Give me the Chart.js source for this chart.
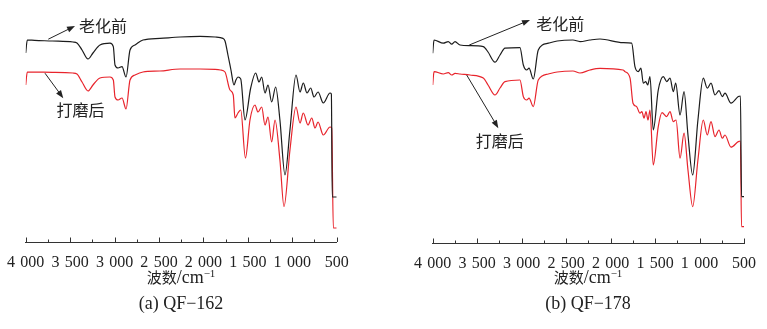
<!DOCTYPE html>
<html>
<head>
<meta charset="utf-8">
<script src="https://cdn.jsdelivr.net/npm/chart.js@4.4.0/dist/chart.umd.min.js"></script>
<style>
  body { margin: 0; background: #fff; }
  #wrap { position: relative; width: 767px; height: 329px; }
  .pane { position: absolute; top: 0; height: 329px; }
  .txt { position: absolute; transform: translateX(-50%); white-space: nowrap;
         font-family: "Liberation Serif", "Noto Sans CJK SC", serif; color: #222; }
  .ttl { top: 266px; line-height: 22px; font-size: 18px; }
  .ttl .zh { font-family: "Noto Sans CJK SC", sans-serif; font-size: 15px; }
  .ttl sup { font-size: 11px; vertical-align: 6px; line-height: 0; }
  .cap { top: 292px; line-height: 22px; font-size: 18px; }
</style>
</head>
<body>
<div id="wrap">
  <div class="pane" style="left:0;width:383px"><canvas id="chartA"></canvas></div>
  <div class="pane" style="left:383px;width:384px"><canvas id="chartB"></canvas></div>
  <div class="txt ttl" style="left:181px"><span class="zh">波数</span>/cm<sup>−1</sup></div>
  <div class="txt ttl" style="left:588px"><span class="zh">波数</span>/cm<sup>−1</sup></div>
  <div class="txt cap" style="left:181px">(a) QF−162</div>
  <div class="txt cap" style="left:588px">(b) QF−178</div>
</div>
<script>
// x axis ticks (wavenumber, cm-1)
const TICKS = [4000, 3500, 3000, 2500, 2000, 1500, 1000, 500];
const TICK_LABELS = ["4\u2004000", "3\u2004500", "3\u2004000", "2\u2004500", "2\u2004000", "1\u2004500", "1\u2004000", "500"];
const MINOR_TICKS = [3750, 3250, 2750, 2250, 1750, 1250, 750];

// (a) QF-162, before ageing (black)
const a_before_wn = [4000, 3982, 3900, 3700, 3468, 3423, 3366, 3299, 3243, 3164, 3051, 3014, 2995, 2961, 2916, 2871, 2826, 2770, 2680, 2489, 2263, 2038, 1869, 1780, 1757, 1724, 1690, 1656, 1634, 1611, 1580, 1532, 1468, 1412, 1374, 1344, 1307, 1273, 1232, 1187, 1139, 1082, 1026, 958, 913, 876, 834, 793, 755, 710, 651, 575, 560, 550, 500];
const a_before_t  = [94.5, 101, 100.8, 100.5, 100, 99.5, 96, 91.5, 94.5, 98.5, 99.4, 97.7, 88.5, 87, 87.7, 82.5, 96, 98.5, 101, 101.8, 102.5, 102.8, 102.5, 101.8, 100.5, 93.5, 86, 78.5, 81, 82.5, 81.5, 61, 77, 84.5, 80, 82.5, 74.5, 78.5, 70, 77.5, 61, 33.5, 56, 83.5, 75, 79.5, 74.5, 77, 72.5, 75, 69.5, 74.5, 74, 22.5, 22.5];

// (a) QF-162, after sanding (red)
const a_after_wn = [4000, 3982, 3700, 3468, 3423, 3366, 3299, 3243, 3164, 3051, 3014, 2995, 2961, 2916, 2871, 2826, 2770, 2680, 2489, 2263, 2038, 1869, 1808, 1757, 1701, 1664, 1645, 1611, 1580, 1527, 1476, 1420, 1386, 1344, 1307, 1273, 1232, 1194, 1139, 1093, 1026, 958, 913, 876, 823, 781, 744, 710, 651, 575, 556, 538, 500];
const a_after_t  = [78.5, 85, 84.8, 84.5, 84, 80, 75.5, 78.5, 82, 82.5, 81, 72.5, 71, 72, 66.5, 81, 83.5, 85, 85.5, 86.5, 86.5, 86.3, 86, 85, 76, 73.5, 62, 64.5, 66, 42, 61, 68.5, 65, 67.5, 58.5, 62.5, 50, 61, 41, 17.7, 46, 67.5, 59.5, 64.5, 58.5, 62, 57, 60, 53.5, 57.5, 57, 7, 7];

// (b) QF-178, before ageing (black)
const b_before_wn = [4000, 3985, 3881, 3825, 3786, 3749, 3693, 3581, 3431, 3378, 3300, 3243, 3187, 3019, 2981, 2943, 2917, 2869, 2813, 2700, 2600, 2423, 2344, 2232, 2119, 1860, 1763, 1726, 1689, 1659, 1632, 1605, 1583, 1557, 1520, 1464, 1407, 1369, 1332, 1295, 1268, 1219, 1174, 1130, 1077, 1018, 958, 913, 871, 826, 781, 744, 714, 646, 564, 540, 528, 500];
const b_before_t  = [94.9, 101.5, 99.9, 100.7, 99.4, 100.7, 99, 98.7, 98.2, 95.5, 90.4, 94, 97.4, 97.7, 89, 86.5, 87.4, 82, 96.5, 99.9, 101, 101.5, 100.7, 101.5, 102, 100.2, 99.9, 88.2, 85.7, 87.4, 79.9, 80.7, 79, 83.2, 56.5, 76.5, 83.2, 80.7, 82.4, 75.7, 79.9, 64, 75.7, 54, 34, 61.5, 82.4, 77.4, 79.9, 74, 76.2, 73.2, 74.9, 69.9, 73.2, 73.5, 23.2, 23.2];

// (b) QF-178, after sanding (red)
const b_after_wn = [4000, 3985, 3881, 3825, 3786, 3749, 3693, 3581, 3431, 3378, 3300, 3243, 3187, 3019, 2981, 2943, 2917, 2869, 2813, 2700, 2600, 2423, 2344, 2232, 2119, 1860, 1838, 1781, 1748, 1707, 1670, 1648, 1624, 1602, 1579, 1557, 1520, 1464, 1422, 1369, 1332, 1295, 1264, 1219, 1174, 1130, 1077, 1018, 958, 913, 871, 826, 781, 744, 714, 646, 564, 540, 528, 500];
const b_after_t  = [79, 85.7, 84.5, 85.2, 84, 84.8, 84.5, 84, 82.5, 79, 74, 77.5, 80.7, 81.5, 73.2, 71.5, 72.4, 68.2, 81.5, 84.5, 85.5, 86, 85, 86.5, 87.3, 86.5, 85.7, 82.4, 69.9, 68.2, 64.9, 65.7, 62.4, 65.7, 61.5, 66.5, 39, 58.2, 65.2, 63.2, 65.7, 60.7, 61.5, 42.4, 54.9, 36.5, 18.2, 41.5, 61.5, 54, 60.7, 53.2, 56.5, 52.4, 54, 47.9, 50.7, 51, 8.2, 8.2];

const BLACK = "#1c1c1c";
const RED = "#e8242c";

function pts(wn, t) {
  return wn.map((w, i) => ({ x: w, y: t[i] }));
}

// inward tick marks on the x axis
const tickMarks = {
  id: "tickMarks",
  afterDraw(chart) {
    const ctx = chart.ctx, x = chart.scales.x, b = chart.chartArea.bottom;
    ctx.save();
    ctx.strokeStyle = "#333";
    ctx.lineWidth = 1;
    ctx.beginPath();
    TICKS.forEach(v => { const p = Math.round(x.getPixelForValue(v)) + 0.5; ctx.moveTo(p, b); ctx.lineTo(p, b - 4.5); });
    MINOR_TICKS.forEach(v => { const p = Math.round(x.getPixelForValue(v)) + 0.5; ctx.moveTo(p, b); ctx.lineTo(p, b - 2.5); });
    ctx.stroke();
    ctx.restore();
  }
};

// arrows with labels
const arrows = {
  id: "arrows",
  afterDraw(chart, args, opts) {
    const ctx = chart.ctx, x = chart.scales.x, y = chart.scales.y;
    ctx.save();
    ctx.strokeStyle = "#222";
    ctx.fillStyle = "#222";
    ctx.lineWidth = 1;
    (opts.notes || []).forEach(n => {
      const x1 = x.getPixelForValue(n.from[0]), y1 = y.getPixelForValue(n.from[1]);
      const x2 = x.getPixelForValue(n.to[0]), y2 = y.getPixelForValue(n.to[1]);
      const a = Math.atan2(y2 - y1, x2 - x1);
      ctx.beginPath();
      ctx.moveTo(x1, y1);
      ctx.lineTo(x2 - 6 * Math.cos(a), y2 - 6 * Math.sin(a));
      ctx.stroke();
      ctx.beginPath();
      ctx.moveTo(x2, y2);
      ctx.lineTo(x2 - 8 * Math.cos(a) + 3 * Math.sin(a), y2 - 8 * Math.sin(a) - 3 * Math.cos(a));
      ctx.lineTo(x2 - 8 * Math.cos(a) - 3 * Math.sin(a), y2 - 8 * Math.sin(a) + 3 * Math.cos(a));
      ctx.closePath();
      ctx.fill();
      ctx.font = '16px "Noto Sans CJK SC", sans-serif';
      ctx.textAlign = "center";
      ctx.textBaseline = "middle";
      ctx.fillText(n.text, x.getPixelForValue(n.at[0]), y.getPixelForValue(n.at[1]));
    });
    ctx.restore();
  }
};

function makeChart(id, black, red, pad, axisH, notes) {
  return new Chart(document.getElementById(id), {
    type: "line",
    data: {
      datasets: [
        { data: black, borderColor: BLACK, borderWidth: 1.2, pointRadius: 0, cubicInterpolationMode: "monotone", fill: false },
        { data: red, borderColor: RED, borderWidth: 1.2, pointRadius: 0, cubicInterpolationMode: "monotone", fill: false }
      ]
    },
    options: {
      responsive: true,
      maintainAspectRatio: false,
      animation: false,
      layout: { padding: pad },
      plugins: { legend: { display: false }, tooltip: { enabled: false }, arrows: { notes: notes } },
      scales: {
        x: {
          type: "linear",
          reverse: true,
          min: 500,
          max: 4000,
          afterBuildTicks: s => { s.ticks = TICKS.map(v => ({ value: v })); },
          afterFit: s => { s.height = axisH; },
          ticks: {
            autoSkip: false,
            maxRotation: 0,
            padding: 3,
            color: "#222",
            font: { family: "Liberation Serif", size: 16 },
            callback: v => TICK_LABELS[TICKS.indexOf(v)]
          },
          grid: { display: false },
          border: { display: true, color: "#333", width: 1 }
        },
        y: { display: false, min: 0, max: 110 }
      }
    },
    plugins: [tickMarks, arrows]
  });
}

makeChart("chartA", pts(a_before_wn, a_before_t), pts(a_after_wn, a_after_t),
  { left: 25.7, right: 46.3, top: 22, bottom: 0 }, 87,
  [
    { from: [3746, 101.4], to: [3445, 108], text: "老化前", at: [3130, 107.8] },
    { from: [3783, 84.4], to: [3577, 71.9], text: "打磨后", at: [3383, 65.8] }
  ]);

makeChart("chartB", pts(b_before_wn, b_before_t), pts(b_after_wn, b_after_t),
  { left: 49.7, right: 23, top: 23, bottom: 0 }, 86,
  [
    { from: [3589, 99], to: [2906, 111.5], text: "老化前", at: [2565, 109.5] },
    { from: [3618, 84], to: [3262, 57.4], text: "打磨后", at: [3245, 50.8] }
  ]);
</script>
</body>
</html>
